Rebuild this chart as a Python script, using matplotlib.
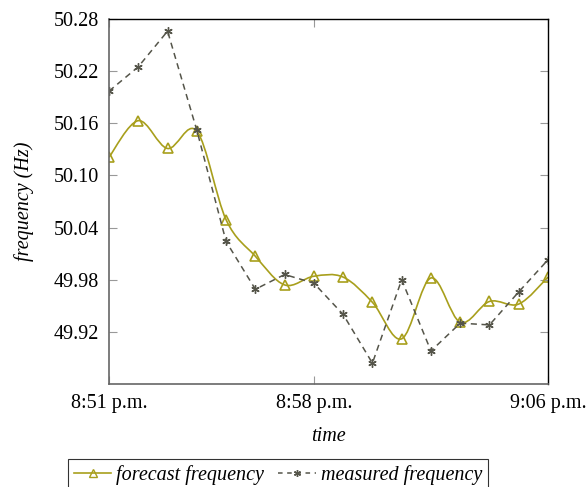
import matplotlib
matplotlib.use("Agg")
import matplotlib.pyplot as plt
import numpy as np
from matplotlib.path import Path
from matplotlib.patches import PathPatch
from matplotlib.lines import Line2D

# ==========================================
# DATA
# ==========================================

minutes = list(range(16))

forecast = [50.121, 50.163, 50.131, 50.151, 50.049, 50.007, 49.974, 49.984,
            49.983, 49.954, 49.912, 49.982, 49.931, 49.955, 49.952, 49.983]

measured = [50.197, 50.225, 50.266, 50.152, 50.024, 49.969, 49.986, 49.976,
            49.940, 49.884, 49.980, 49.898, 49.930, 49.928, 49.966, 50.003]

tick_pos = [0, 7, 15]
tick_labels = ["8:51 p.m.", "8:58 p.m.", "9:06 p.m."]
yticks = [49.92, 49.98, 50.04, 50.10, 50.16, 50.22, 50.28]

c_fore = "#a89f1c"
c_meas = "#55554a"

# ==========================================
# FIGURE
# ==========================================

plt.rcParams["font.family"] = ["Liberation Serif", "DejaVu Serif"]
plt.rcParams["font.size"] = 14.5

fig = plt.figure(figsize=(5.88, 4.87), dpi=100)
ax = fig.add_axes([0.1854, 0.2115, 0.7466, 0.7495])

# smooth curve for forecast (cubic bezier through the points)
x = np.array(minutes, dtype=float)
y = np.array(forecast)
k = 1.0 / 6.0
verts = [(x[0], y[0])]
codes = [Path.MOVETO]
for i in range(len(x) - 1):
    a = max(i - 1, 0)
    b = min(i + 2, len(x) - 1)
    c1 = (x[i] + k * (x[i + 1] - x[a]), y[i] + k * (y[i + 1] - y[a]))
    c2 = (x[i + 1] - k * (x[b] - x[i]), y[i + 1] - k * (y[b] - y[i]))
    verts += [c1, c2, (x[i + 1], y[i + 1])]
    codes += [Path.CURVE4] * 3
ax.add_patch(PathPatch(Path(verts, codes), facecolor="none",
                       edgecolor=c_fore, linewidth=1.2))
ax.plot(minutes, forecast, linestyle="none", marker="^", markersize=7,
        markerfacecolor="none", markeredgecolor=c_fore, markeredgewidth=1.2)

ax.plot(minutes, measured, color=c_meas, linestyle=(0, (4, 3)),
        linewidth=1.1, marker=(6, 2, 0), markersize=6,
        markeredgewidth=1.0)

ax.set_xlim(0, 15)
ax.set_ylim(49.86, 50.28)
ax.set_xticks(tick_pos)
ax.set_xticklabels(tick_labels)
ax.set_yticks(yticks)
ax.set_yticklabels([f"{v:.2f}" for v in yticks])
ax.tick_params(direction="in", length=6, width=0.8, color="#999999",
               top=True, right=True, pad=7, labelsize=14.5)

for side in ["left", "bottom"]:
    ax.spines[side].set_color("#666666")
    ax.spines[side].set_linewidth(1.2)
for side in ["top", "right"]:
    ax.spines[side].set_linewidth(1.0)

ax.set_xlabel("time", style="italic", fontsize=14.5, labelpad=10)
ax.set_ylabel("frequency (Hz)", style="italic", fontsize=14.5, labelpad=14)

handles = [
    Line2D([], [], color=c_fore, linewidth=1.2, marker="^", markersize=6,
           markerfacecolor="none", markeredgecolor=c_fore),
    Line2D([], [], color=c_meas, linestyle=(0, (3, 3)), linewidth=1.1,
           marker=(6, 2, 0), markersize=5),
]
leg = fig.legend(handles, ["forecast frequency", "measured frequency"],
                 loc="upper left", bbox_to_anchor=(0.1156, 0.0575),
                 ncol=2, frameon=True, fancybox=False, edgecolor="black",
                 prop={"style": "italic", "size": 14.5},
                 handlelength=1.85, columnspacing=0.7, handletextpad=0.25,
                 borderpad=0.3, borderaxespad=0)
leg.get_frame().set_linewidth(0.8)

plt.savefig("out.png", dpi=100)
plt.close()
